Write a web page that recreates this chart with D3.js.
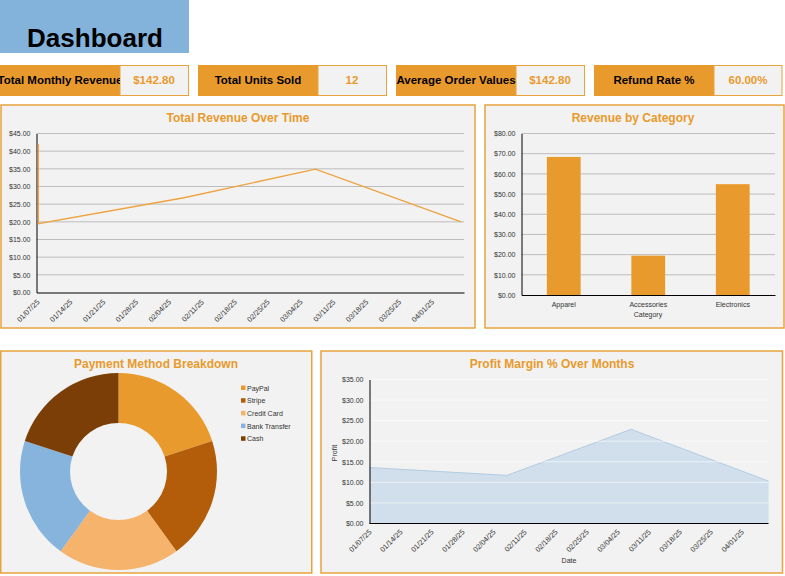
<!DOCTYPE html>
<html><head><meta charset="utf-8">
<script src="https://cdn.jsdelivr.net/npm/d3@7/dist/d3.min.js"></script>
<style>
body{margin:0;background:#fff;}
svg{display:block;font-family:"Liberation Sans",Arial,sans-serif;}
</style></head>
<body>
<script>
// ---- data ----
const kpiLabels = ["Total Monthly Revenue", "Total Units Sold", "Average Order Values", "Refund Rate %"];
const kpiValues = ["$142.80", "12", "$142.80", "60.00%"];

const dateTicks = ["01/07/25","01/14/25","01/21/25","01/28/25","02/04/25","02/11/25","02/18/25","02/25/25","03/04/25","03/11/25","03/18/25","03/25/25","04/01/25"];

const revenueDates = ["2025-01-07","2025-01-07","2025-02-07","2025-03-07","2025-04-07"];
const revenueValues = [42.0, 19.5, 26.8, 34.9, 20.0];
const revenueTicks = [0,5,10,15,20,25,30,35,40,45];

const categories = ["Apparel","Accessories","Electronics"];
const categoryValues = [68.4, 19.5, 54.9];
const categoryTicks = [0,10,20,30,40,50,60,70,80];

const paymentMethods = ["PayPal","Stripe","Credit Card","Bank Transfer","Cash"];
const paymentValues = [1,1,1,1,1];
const paymentColors = ["#E99A2C","#B35D0B","#F5B36B","#86B4DD","#7A3E06"];

const profitDates = ["2025-01-07","2025-02-07","2025-03-07","2025-04-07"];
const profitValues = [13.6, 11.7, 22.9, 10.3];
const profitTicks = [0,5,10,15,20,25,30,35];

// ---- setup ----
const W = 785, H = 576;
const ORANGE = "#E99A2C", BORDER = "#E8A33D", TITLE = "#E99A2C", PANEL = "#F2F2F2";
const svg = d3.select("body").append("svg").attr("width", W).attr("height", H);
const parse = d3.utcParse("%Y-%m-%d");
const fmtMoney = d => "$" + d3.format(".2f")(d);

// header
svg.append("rect").attr("x",0).attr("y",0).attr("width",189).attr("height",53).attr("fill","#83B3DB");
svg.append("text").attr("x",95).attr("y",47).attr("text-anchor","middle")
  .attr("font-size",26).attr("font-weight","bold").attr("fill","#000").text("Dashboard");

// KPI boxes
const kpiX = [0,198,396,594];
kpiLabels.forEach((lab,i)=>{
  const x0 = kpiX[i];
  const g = svg.append("g");
  const cid = "kclip"+i;
  svg.append("clipPath").attr("id",cid).append("rect").attr("x",x0).attr("y",65).attr("width",120).attr("height",31);
  g.append("rect").attr("x",x0).attr("y",65).attr("width",120).attr("height",31).attr("fill",ORANGE);
  g.append("rect").attr("x",x0+120).attr("y",65.5).attr("width",i===3?68:68.5).attr("height",30).attr("fill","#F2F2F2")
    .attr("stroke",BORDER).attr("stroke-width",1);
  g.append("text").attr("clip-path",`url(#${cid})`).attr("x",x0+60).attr("y",84).attr("text-anchor","middle")
    .attr("font-size",11.5).attr("font-weight","bold").attr("fill","#000").text(lab);
  g.append("text").attr("x",x0+154).attr("y",84).attr("text-anchor","middle")
    .attr("font-size",11.5).attr("font-weight","bold").attr("fill",ORANGE).text(kpiValues[i]);
});

function panel(x,y,w,h,title,tx,ty){
  svg.append("rect").attr("x",x).attr("y",y).attr("width",w).attr("height",h)
    .attr("fill",PANEL).attr("stroke",BORDER).attr("stroke-width",1.5);
  svg.append("text").attr("x",tx).attr("y",ty).attr("text-anchor","middle")
    .attr("font-size",12).attr("font-weight","bold").attr("fill",TITLE).text(title);
}

// ---- Panel 1: Total Revenue Over Time ----
panel(1,105,474,223,"Total Revenue Over Time",238,122);
{
  const x = d3.scaleUtc().domain([parse("2025-01-07"), parse("2025-04-08")]).range([36.5,464]);
  const y = d3.scaleLinear().domain([0,45]).range([292.5,133.5]);
  const g = svg.append("g");
  g.append("g").selectAll("line").data(revenueTicks.slice(1)).join("line")
    .attr("x1",36.5).attr("x2",464).attr("y1",d=>y(d)).attr("y2",d=>y(d))
    .attr("stroke","#BDBDBD").attr("stroke-width",1);
  const ya = d3.axisLeft(y).tickValues(revenueTicks).tickFormat(fmtMoney).tickSize(0).tickPadding(6);
  const yg = g.append("g").attr("transform","translate(36.5,0)").call(ya);
  yg.select(".domain").attr("stroke","#000");
  yg.selectAll("text").attr("font-size",7).attr("fill","#333").attr("font-family","Liberation Sans, Arial");
  const tickDates = dateTicks.map(s=>d3.utcParse("%m/%d/%y")(s));
  const xa = d3.axisBottom(x).tickValues(tickDates).tickFormat(d3.utcFormat("%m/%d/%y")).tickSize(0);
  const xg = g.append("g").attr("transform","translate(0,292.5)").call(xa);
  xg.select(".domain").attr("stroke","#000").attr("stroke-width",1.2);
  xg.selectAll("text").attr("font-size",7.3).attr("fill","#333").attr("font-family","Liberation Sans, Arial")
    .attr("text-anchor","end").attr("dy",null).attr("y",0)
    .attr("transform","translate(3,10) rotate(-45)");
  const line = d3.line().x((d,i)=>x(parse(revenueDates[i]))+1.8).y(d=>y(d));
  g.append("path").datum(revenueValues).attr("d",line).attr("fill","none")
    .attr("stroke","#EDA33F").attr("stroke-width",1.4);
}

// ---- Panel 2: Revenue by Category ----
panel(485,105,299,223,"Revenue by Category",633,122);
{
  const x = d3.scaleBand().domain(categories).range([521.5,775]).paddingInner(0.6).paddingOuter(0.3);
  const y = d3.scaleLinear().domain([0,80]).range([295,133.5]);
  const g = svg.append("g");
  g.append("g").selectAll("line").data(categoryTicks.slice(1)).join("line")
    .attr("x1",521.5).attr("x2",775).attr("y1",d=>y(d)).attr("y2",d=>y(d))
    .attr("stroke","#BDBDBD").attr("stroke-width",1);
  g.append("g").selectAll("rect").data(categoryValues).join("rect")
    .attr("x",(d,i)=>x(categories[i])).attr("width",x.bandwidth())
    .attr("y",d=>y(d)).attr("height",d=>y(0)-y(d)).attr("fill",ORANGE);
  const yg = g.append("g").attr("transform","translate(521.5,0)")
    .call(d3.axisLeft(y).tickValues(categoryTicks).tickFormat(fmtMoney).tickSize(0).tickPadding(6));
  yg.select(".domain").attr("stroke","#000");
  yg.selectAll("text").attr("font-size",7).attr("fill","#333").attr("font-family","Liberation Sans, Arial");
  const xg = g.append("g").attr("transform","translate(0,295)")
    .call(d3.axisBottom(x).tickSize(0).tickPadding(7));
  xg.select(".domain").attr("stroke","#000").attr("stroke-width",1.2);
  xg.selectAll("text").attr("font-size",7).attr("fill","#333").attr("font-family","Liberation Sans, Arial");
  g.append("text").attr("x",648).attr("y",317).attr("text-anchor","middle").attr("font-size",7).attr("fill","#333").text("Category");
}

// ---- Panel 3: Payment Method Breakdown ----
panel(0.75,351,311,222,"Payment Method Breakdown",156,368);
{
  const pie = d3.pie().sort(null).value(d=>d)(paymentValues);
  const arc = d3.arc().innerRadius(48.5).outerRadius(98.5);
  const g = svg.append("g").attr("transform","translate(118.5,471.5)");
  g.selectAll("path").data(pie).join("path").attr("d",arc).attr("fill",(d,i)=>paymentColors[i]);
  const lg = svg.append("g").attr("transform","translate(241,388)");
  paymentMethods.forEach((m,i)=>{
    lg.append("rect").attr("x",0).attr("y",i*12.7-2.5).attr("width",4.5).attr("height",4.5).attr("fill",paymentColors[i]);
    lg.append("text").attr("x",6).attr("y",i*12.7+2.5).attr("font-size",7).attr("fill","#333").text(m);
  });
}

// ---- Panel 4: Profit Margin % Over Months ----
panel(321,351,461.5,222,"Profit Margin % Over Months",552,368);
{
  const x = d3.scaleUtc().domain([parse("2025-01-07"), parse("2025-04-08")]).range([369.5,773]);
  const y = d3.scaleLinear().domain([0,35]).range([523.5,379.5]);
  const g = svg.append("g");
  const area = d3.area().x((d,i)=>x(parse(profitDates[i]))).y0(y(0)).y1(d=>y(d));
  g.append("path").datum(profitValues).attr("d",area).attr("fill","#D0DFEB");
  const line = d3.line().x((d,i)=>x(parse(profitDates[i]))).y(d=>y(d));
  g.append("path").datum(profitValues).attr("d",line).attr("fill","none").attr("stroke","#B3CCE2").attr("stroke-width",1);
  g.append("g").selectAll("line").data(profitTicks.slice(1)).join("line")
    .attr("x1",369.5).attr("x2",768.5).attr("y1",d=>y(d)).attr("y2",d=>y(d))
    .attr("stroke","#FFFFFF").attr("stroke-opacity",0.6).attr("stroke-width",1);
  const yg = g.append("g").attr("transform","translate(369.5,0)")
    .call(d3.axisLeft(y).tickValues(profitTicks).tickFormat(fmtMoney).tickSize(0).tickPadding(6));
  yg.select(".domain").attr("stroke","#000");
  yg.selectAll("text").attr("font-size",7).attr("fill","#333").attr("font-family","Liberation Sans, Arial");
  const tickDates = dateTicks.map(s=>d3.utcParse("%m/%d/%y")(s));
  const xg = g.append("g").attr("transform","translate(0,523.5)")
    .call(d3.axisBottom(x).tickValues(tickDates).tickFormat(d3.utcFormat("%m/%d/%y")).tickSize(0));
  xg.select(".domain").attr("stroke","#000").attr("stroke-width",1.2).attr("d","M369.5,0H768.5");
  xg.selectAll("text").attr("font-size",7.3).attr("fill","#333").attr("font-family","Liberation Sans, Arial")
    .attr("text-anchor","end").attr("dy",null).attr("y",0)
    .attr("transform","translate(2,9) rotate(-45)");
  g.append("text").attr("x",569).attr("y",563).attr("text-anchor","middle").attr("font-size",7).attr("fill","#333").text("Date");
  g.append("text").attr("transform","translate(337,453) rotate(-90)").attr("text-anchor","middle").attr("font-size",7).attr("fill","#333").text("Profit");
}
</script>
</body></html>
